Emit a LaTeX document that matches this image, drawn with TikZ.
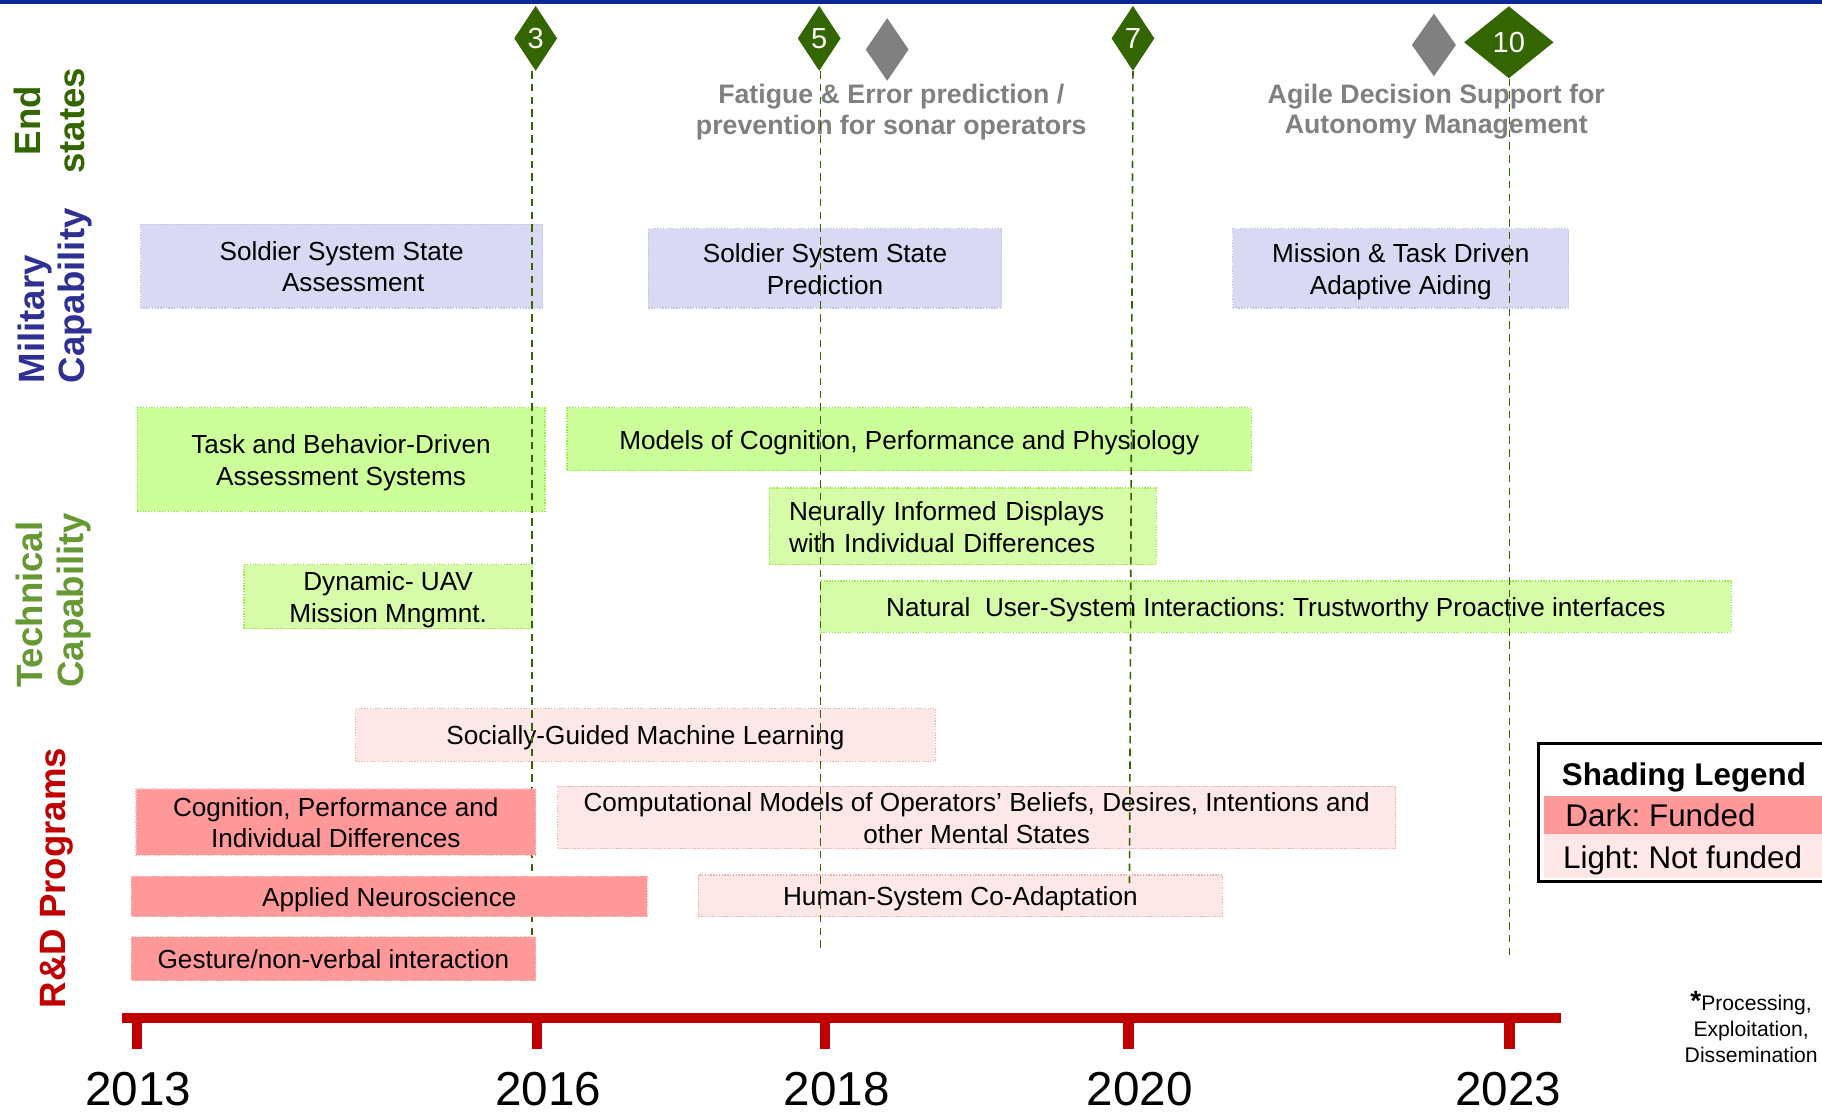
\documentclass[tikz,border=0pt]{standalone}
\usepackage{fontspec}
\setmainfont{Liberation Sans}
\usetikzlibrary{shapes.geometric}
\frenchspacing

\definecolor{topblue}{RGB}{10,40,150}
\definecolor{esgreen}{RGB}{51,102,0}
\definecolor{tcgreen}{RGB}{102,153,51}
\definecolor{mcblue}{RGB}{46,49,146}
\definecolor{rdred}{RGB}{192,0,0}
\definecolor{lavfill}{RGB}{217,217,243}
\definecolor{lavline}{RGB}{196,198,232}
\definecolor{grnfill}{RGB}{204,255,153}
\definecolor{grnfillb}{RGB}{214,252,170}
\definecolor{grnline}{RGB}{153,238,68}
\definecolor{pinkdark}{RGB}{255,153,153}
\definecolor{pinkdarkline}{RGB}{255,192,192}
\definecolor{pinklight}{RGB}{253,231,231}
\definecolor{pinklightline}{RGB}{242,175,175}
\definecolor{greymark}{RGB}{128,128,128}

% line strut (0.98em above, 0.22em below the baseline) for box labels
\newcommand{\bxs}{\rule[-0.22em]{0pt}{1.2em}}

\tikzset{
  bx/.style={rectangle, inner sep=0pt, align=center,
    font=\fontsize{22.5}{27}\selectfont, line width=1pt,
    dash pattern=on 1.2pt off 1.2pt},
  mil/.style={bx, fill=lavfill, draw=lavline},
  tec/.style={bx, fill=grnfill, draw=grnline},
  tecb/.style={bx, fill=grnfillb, draw=grnline},
  rdark/.style={bx, fill=pinkdark, draw=pinkdarkline},
  rlight/.style={bx, fill=pinklight, draw=pinklightline},
  axislabel/.style={rotate=90, inner sep=0pt,
    font=\fontsize{31.5}{38}\selectfont\bfseries},
  milestone/.style={diamond, fill=esgreen, inner sep=0pt, text=white,
    font=\fontsize{25}{25}\selectfont},
  greymilestone/.style={diamond, fill=greymark, inner sep=0pt},
  endstate/.style={align=center, text=greymark, inner sep=0pt,
    font=\fontsize{23}{26.5}\selectfont\bfseries},
  guide/.style={draw=esgreen, line width=1.4pt, dash pattern=on 6.5pt off 4.5pt},
  year/.style={anchor=base, inner sep=0pt, font=\fontsize{41}{41}\selectfont},
  tick/.style={fill=rdred},
  legendtext/.style={anchor=base west, inner sep=0pt, font=\fontsize{27}{27}\selectfont},
}

\begin{document}
\begin{tikzpicture}[x=1pt,y=-1pt]
\clip (0,0) rectangle (1568,957);
\fill[white] (0,0) rectangle (1568,957);

% top rule
\fill[topblue] (0,0) rectangle (1568,3.3);

% row titles
\node[axislabel, text=esgreen, anchor=base] (es1) at (35,104) {End};
\node[axislabel, text=esgreen, anchor=base] (es2) at (73,104) {states};
\node[axislabel, text=mcblue, anchor=base west] (mc1) at (38,330) {Military};
\node[axislabel, text=mcblue, anchor=base west] (mc2) at (73,330) {Capability};
\node[axislabel, text=tcgreen, anchor=base west] (tc1) at (37,592) {Technical};
\node[axislabel, text=tcgreen, anchor=base west] (tc2) at (72,592) {Capability};
\node[axislabel, text=rdred, anchor=base west] (rd) at (56,868) {R\&D Programs};

% military capability
\node[mil, minimum width=346, minimum height=72] (msa) at (294,229)
  {\bxs Soldier System State\\\hspace*{20pt}\bxs Assessment};
\node[mil, minimum width=304, minimum height=68] (msp) at (710,231)
  {\bxs Soldier System State\\\bxs Prediction};
\node[mil, minimum width=289, minimum height=68] (mta) at (1205.5,231)
  {\bxs Mission \& Task Driven\\\bxs Adaptive Aiding};

% technical capability
\node[tec, minimum width=351, minimum height=89] (tba) at (293.5,395.5)
  {\bxs Task and Behavior-Driven\\\bxs Assessment Systems};
\node[tec, minimum width=589, minimum height=54] (mcp) at (782.5,378)
  {\bxs Models of Cognition, Performance and Physiology};
\node[tecb, minimum height=66, text width=299, inner xsep=17pt, align=left] (nid) at (828.5,453)
  {\bxs Neurally Informed Displays\\\bxs with Individual Differences};
\node[tecb, minimum width=248, minimum height=55] (uav) at (334,513.5)
  {\bxs Dynamic- UAV\\\bxs Mission Mngmnt.};
\node[tecb, minimum width=784, minimum height=44] (nui) at (1098,522)
  {\bxs Natural\ \ User-System Interactions: Trustworthy Proactive interfaces};

% unfunded programs
\node[rlight, minimum width=499, minimum height=45] (sgml) at (555.5,632.5)
  {\bxs Socially-Guided Machine Learning};
\node[rlight, minimum width=721, minimum height=53] (cmo) at (840.5,703.5)
  {\bxs Computational Models of Operators’ Beliefs, Desires, Intentions and\\\bxs other Mental States};
\node[rlight, minimum width=451, minimum height=36] (hsc) at (826.5,771)
  {\bxs Human-System Co-Adaptation};

% milestones and their guides
\node[milestone, minimum width=37, minimum height=56] (d3) at (461,33) {3};
\node[milestone, minimum width=37, minimum height=56] (d5) at (705,33) {5};
\node[greymilestone, minimum width=37, minimum height=54] (g1) at (763.5,42.6) {};
\node[milestone, minimum width=37, minimum height=56] (d7) at (975,33) {7};
\node[greymilestone, minimum width=38, minimum height=54] (g2) at (1234,38.7) {};
\node[milestone, minimum width=77, minimum height=62] (d10) at (1298.5,36.4) {10};

\node[endstate] (fat) at (767,96.5)
  {Fatigue \& Error prediction /\\prevention for sonar operators};
\node[endstate] (agile) at (1236,96)
  {Agile Decision Support for\\Autonomy Management};

\coordinate (e3) at (458,806);
\coordinate (e5) at (706,820);
\coordinate (e7) at (972,760);
\coordinate (e10) at (1299,822);
\draw[guide] (d3.south -| e3) -- (e3);
\draw[guide] (d5.south -| e5) -- (e5);
\draw[guide] (d7.south) -- (e7);
\draw[guide] (d10.south -| e10) -- (e10);

% funded programs
\node[rdark, minimum width=344, minimum height=57] (cpi) at (289,707.5)
  {\bxs Cognition, Performance and\\\bxs Individual Differences};
\node[rdark, minimum width=444, minimum height=35] (ans) at (335,771.5)
  {\bxs Applied Neuroscience};
\node[rdark, minimum width=348, minimum height=38] (gnv) at (287,825)
  {\bxs Gesture/non-verbal interaction};

% time axis
\fill[rdred] (105,871.5) rectangle (1343,880.5);
\foreach \tx/\yr/\lx in {118/2013/119, 462/2016/472, 710/2018/720, 971/2020/981, 1299/2023/1298}{
  \fill[tick] (\tx-4.5,872) rectangle (\tx+4.5,903);
  \node[year] (y\yr) at (\lx,951) {\yr};
}

% legend
\draw[line width=2.6pt, fill=white] (1324,639.5) rectangle (1590,759);
\fill[pinkdark] (1329,685) rectangle (1590,718);
\fill[pinklight] (1329,718) rectangle (1590,755.5);
\node[legendtext, font=\fontsize{27}{27}\selectfont\bfseries] (lgt) at (1344,676) {Shading Legend};
\node[legendtext] (lgd) at (1347,711.5) {Dark: Funded};
\node[legendtext] (lgl) at (1345,747.5) {Light: Not funded};

% footnote
\node[align=center, inner sep=0pt, font=\fontsize{18.2}{22.4}\selectfont] (ped) at (1507,884)
  {{\fontsize{24}{22.4}\selectfont\bfseries *}Processing,\\Exploitation,\\Dissemination};
\end{tikzpicture}
\end{document}
